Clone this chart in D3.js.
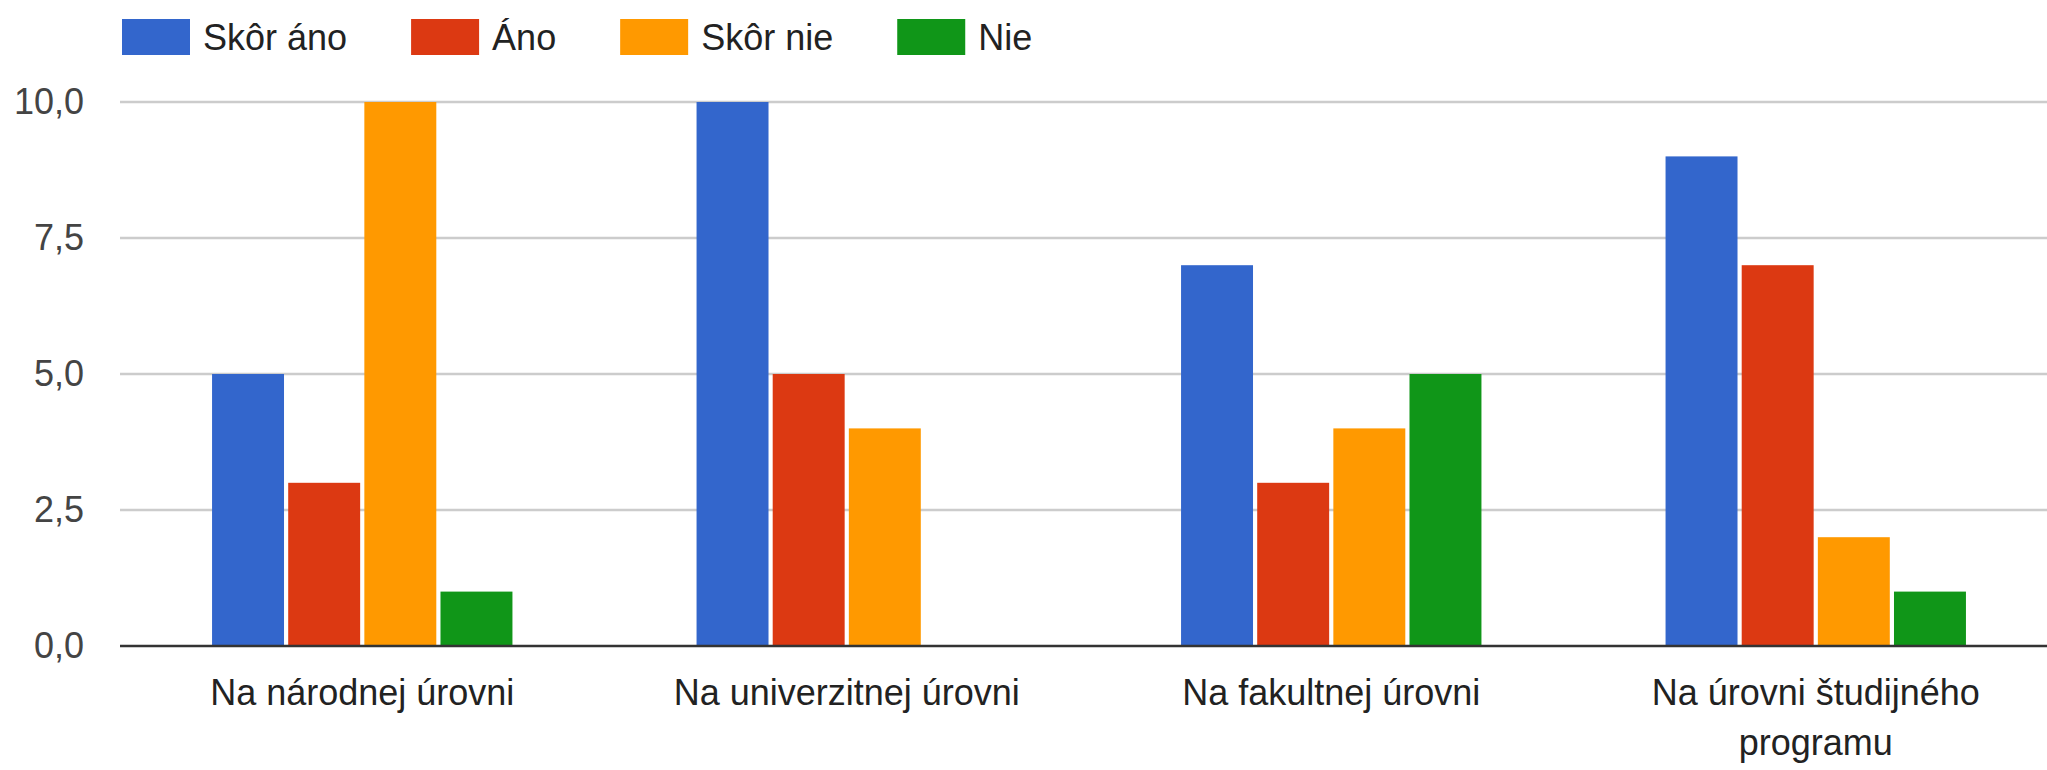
<!DOCTYPE html>
<html>
<head>
<meta charset="utf-8">
<script src="https://cdn.jsdelivr.net/npm/d3@7"></script>
<style>
  body { margin: 0; background: #fff; }
  svg { display: block; font-family: Arial, "Liberation Sans", sans-serif; }
</style>
</head>
<body>
<svg id="chart"></svg>
<script>
// Chart data
const categories = [
  'Na národnej úrovni',
  'Na univerzitnej úrovni',
  'Na fakultnej úrovni',
  'Na úrovni študijného programu',
];
const seriesNames = ['Skôr áno', 'Áno', 'Skôr nie', 'Nie'];
const seriesColors = ['#3366cc', '#dc3912', '#ff9900', '#109618'];
const skorAno = [5, 10, 7, 9];
const ano = [3, 5, 3, 7];
const skorNie = [10, 4, 4, 2];
const nie = [1, 0, 5, 1];
const yTicks = [0, 2.5, 5, 7.5, 10];

const seriesValues = [skorAno, ano, skorNie, nie];

// Layout
const WIDTH = 2047;
const HEIGHT = 770;
const PLOT_LEFT = 120;
const PLOT_RIGHT = 2058; // plot area runs past the right edge
const PLOT_TOP = 102;
const PLOT_BOTTOM = 646;
const FONT_SIZE = 36;

const svg = d3.select('#chart')
  .attr('width', WIDTH)
  .attr('height', HEIGHT);

const x0 = d3.scaleBand()
  .domain(categories)
  .range([PLOT_LEFT, PLOT_RIGHT])
  .paddingInner(0.38)
  .paddingOuter(0.19);

const x1 = d3.scaleBand()
  .domain(seriesNames)
  .range([0, x0.bandwidth()])
  .paddingInner(0.055);

const y = d3.scaleLinear()
  .domain([0, 10])
  .range([PLOT_BOTTOM, PLOT_TOP]);

const locale = d3.formatLocale({ decimal: ',', thousands: ' ', grouping: [3], currency: ['', ' €'] });
const fmt = locale.format('.1f');

// Gridlines
svg.append('g')
  .selectAll('line')
  .data(yTicks.filter(t => t !== 0))
  .enter()
  .append('line')
  .attr('x1', PLOT_LEFT)
  .attr('x2', WIDTH)
  .attr('y1', d => y(d))
  .attr('y2', d => y(d))
  .attr('stroke', '#cccccc')
  .attr('stroke-width', 2.5);

// Y axis labels
const yAxis = svg.append('g')
  .attr('transform', `translate(${PLOT_LEFT}, 0)`)
  .call(d3.axisLeft(y).tickValues(yTicks).tickFormat(fmt).tickSize(0).tickPadding(36));
yAxis.select('.domain').remove();
yAxis.selectAll('text')
  .attr('font-size', FONT_SIZE)
  .attr('font-family', 'Arial, "Liberation Sans", sans-serif')
  .attr('fill', '#444');

// Bars
const rows = categories.map((cat, i) => ({
  cat,
  values: seriesNames.map((name, s) => ({ name, value: seriesValues[s][i], color: seriesColors[s] })),
}));

svg.append('g')
  .selectAll('g')
  .data(rows)
  .enter()
  .append('g')
  .attr('transform', d => `translate(${x0(d.cat)}, 0)`)
  .selectAll('rect')
  .data(d => d.values.filter(v => v.value > 0))
  .enter()
  .append('rect')
  .attr('x', d => x1(d.name))
  .attr('y', d => y(d.value))
  .attr('width', x1.bandwidth())
  .attr('height', d => y(0) - y(d.value))
  .attr('fill', d => d.color);

// Baseline
svg.append('line')
  .attr('x1', PLOT_LEFT)
  .attr('x2', WIDTH)
  .attr('y1', y(0))
  .attr('y2', y(0))
  .attr('stroke', '#333')
  .attr('stroke-width', 2.5);

// X axis labels, wrapped like the original
const xAxis = svg.append('g')
  .attr('transform', `translate(0, ${PLOT_BOTTOM})`)
  .call(d3.axisBottom(x0).tickSize(0));
xAxis.select('.domain').remove();

const wrap = (texts, maxWidth) => {
  texts.each(function () {
    const text = d3.select(this);
    const words = text.text().split(' ');
    text.text(null).attr('y', 0).attr('dy', null);
    let line = [];
    let lineNo = 0;
    let tspan = text.append('tspan').attr('x', 0).attr('y', 59);
    words.forEach((word) => {
      line.push(word);
      tspan.text(line.join(' '));
      if (tspan.node().getComputedTextLength() > maxWidth && line.length > 1) {
        line.pop();
        tspan.text(line.join(' '));
        line = [word];
        lineNo += 1;
        tspan = text.append('tspan').attr('x', 0).attr('y', 59 + lineNo * 50).text(word);
      }
    });
  });
};

xAxis.selectAll('text')
  .attr('font-size', FONT_SIZE)
  .attr('font-family', 'Arial, "Liberation Sans", sans-serif')
  .attr('fill', '#222')
  .call(wrap, 420);

// Legend
const legend = svg.append('g').attr('transform', 'translate(122, 0)');
let legendX = 0;
seriesNames.forEach((name, i) => {
  const item = legend.append('g').attr('transform', `translate(${legendX}, 0)`);
  item.append('rect')
    .attr('x', 0)
    .attr('y', 19)
    .attr('width', 68)
    .attr('height', 36)
    .attr('fill', seriesColors[i]);
  const label = item.append('text')
    .attr('x', 81)
    .attr('y', 37)
    .attr('dy', '0.35em')
    .attr('font-size', FONT_SIZE)
    .attr('fill', '#222')
    .text(name);
  legendX += 81 + label.node().getComputedTextLength() + 64;
});
</script>
</body>
</html>
